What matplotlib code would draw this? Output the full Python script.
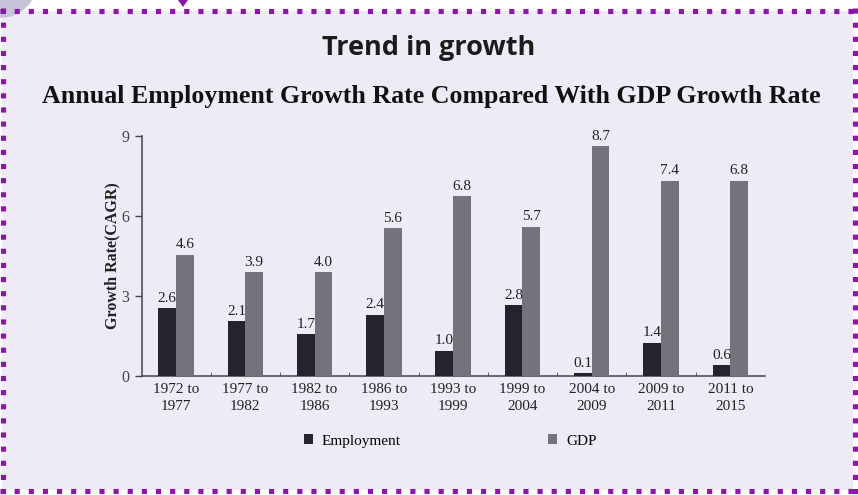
"""
Trend in growth: employment vs GDP growth rate (CAGR) by period
"""

import matplotlib
matplotlib.use("Agg")
import matplotlib.pyplot as plt
import numpy as np
from matplotlib.lines import Line2D
from matplotlib.patches import Ellipse, Polygon, Rectangle


periods = ["1972 to\n1977", "1977 to\n1982", "1982 to\n1986", "1986 to\n1993",
           "1993 to\n1999", "1999 to\n2004", "2004 to\n2009", "2009 to\n2011",
           "2011 to\n2015"]
employment = [2.55, 2.05, 1.58, 2.3, 0.95, 2.65, 0.1, 1.25, 0.42]
gdp = [4.55, 3.9, 3.9, 5.55, 6.75, 5.6, 8.62, 7.33, 7.33]
employment_labels = ["2.6", "2.1", "1.7", "2.4", "1.0", "2.8", "0.1", "1.4", "0.6"]
gdp_labels = ["4.6", "3.9", "4.0", "5.6", "6.8", "5.7", "8.7", "7.4", "6.8"]
y_ticks = [0, 3, 6, 9]

BG = "#eeeaf6"
PURPLE = "#8a17a8"
EMP_COLOR = "#25232d"
GDP_COLOR = "#75727b"
SERIF = "Liberation Serif"


def main():
    W, H = 858, 495
    fig = plt.figure(figsize=(W / 100, H / 100), dpi=100)
    fig.patch.set_facecolor("white")

    # panel background + decorations (pixel coords, y measured from top)
    def fx(px):
        return px / W

    def fy(py):
        return 1 - py / H

    fig.patches.append(Rectangle((fx(2), fy(490)), fx(853) - fx(2), fy(11) - fy(490),
                                 transform=fig.transFigure, facecolor=BG,
                                 edgecolor="none", zorder=-2))
    fig.patches.append(Ellipse((0, fy(-20)), 76 / W, 76 / H, transform=fig.transFigure,
                               facecolor="#c7c4da", edgecolor="none", zorder=-1))
    fig.patches.append(Polygon([(fx(178), fy(0)), (fx(188), fy(0)), (fx(183), fy(7))],
                               closed=True, transform=fig.transFigure,
                               facecolor=PURPLE, edgecolor="none", zorder=2))
    dot = dict(color=PURPLE, linewidth=3.7, linestyle=(0, (1.0, 1.75)),
               solid_capstyle="butt", dash_capstyle="butt", transform=fig.transFigure, zorder=2)
    fig.lines.append(Line2D([fx(0), fx(858)], [fy(10.5), fy(10.5)], **dot))
    fig.lines.append(Line2D([fx(0), fx(858)], [fy(490.5), fy(490.5)], **dot))
    fig.lines.append(Line2D([fx(2.5), fx(2.5)], [fy(8), fy(495)], **dot))
    fig.lines.append(Line2D([fx(854.5), fx(854.5)], [fy(8), fy(495)], **dot))

    fig.text(fx(429), fy(48), "Trend in growth", ha="center", va="center",
             fontsize=19.5, fontweight="bold", family="Open Sans", color="#1c1c1c")
    fig.text(fx(431), fy(97), "Annual Employment Growth Rate Compared With GDP Growth Rate",
             ha="center", va="center", fontsize=18.6, fontweight="bold", family=SERIF,
             color="#111111")

    ax = fig.add_axes([fx(142), fy(376), fx(765) - fx(142), fy(136) - fy(376)])
    ax.set_zorder(1)
    ax.set_facecolor("none")

    x = np.arange(len(periods))
    w = 0.255
    ax.bar(x - w / 2, employment, width=w, color=EMP_COLOR, label="Employment", zorder=3)
    ax.bar(x + w / 2, gdp, width=w, color=GDP_COLOR, label="GDP", zorder=3)

    for xi, v, t in zip(x, employment, employment_labels):
        ax.text(xi - w / 2, v + 0.12, t, ha="center", va="bottom", fontsize=11,
                family=SERIF, color="#222222")
    for xi, v, t in zip(x, gdp, gdp_labels):
        ax.text(xi + w / 2, v + 0.12, t, ha="center", va="bottom", fontsize=11,
                family=SERIF, color="#222222")

    ax.set_xlim(-0.49, len(periods) - 0.5)
    ax.set_ylim(0, 9)
    ax.set_yticks(y_ticks)
    ax.set_yticklabels([str(t) for t in y_ticks], family=SERIF, fontsize=11.5, color="#444444")
    ax.set_xticks(x)
    ax.set_xticklabels(periods, family=SERIF, fontsize=11, color="#222222", linespacing=1.4)
    ax.tick_params(axis="x", length=0, pad=5)
    ax.set_xticks(x[:-1] + 0.5, minor=True)
    ax.tick_params(axis="x", which="minor", length=3, direction="in", color="#444444")
    ax.tick_params(axis="y", length=5, width=1, color="#444444", pad=4)

    for side in ("top", "right"):
        ax.spines[side].set_visible(False)
    for side in ("left", "bottom"):
        ax.spines[side].set_color("#444444")
        ax.spines[side].set_linewidth(1.1)

    ax.set_ylabel("Growth Rate(CAGR)", family=SERIF, fontsize=11.5, fontweight="bold",
                  color="#222222", labelpad=1)

    leg = fig.legend(loc="center", bbox_to_anchor=(fx(450), fy(441)), ncol=2, frameon=False,
                     prop={"family": SERIF, "size": 11}, handlelength=0.6, handleheight=0.6,
                     handletextpad=0.6, columnspacing=9.6)
    leg.set_zorder(3)

    plt.savefig("out.png", dpi=100, facecolor=fig.get_facecolor())
    plt.close()


if __name__ == "__main__":
    main()
